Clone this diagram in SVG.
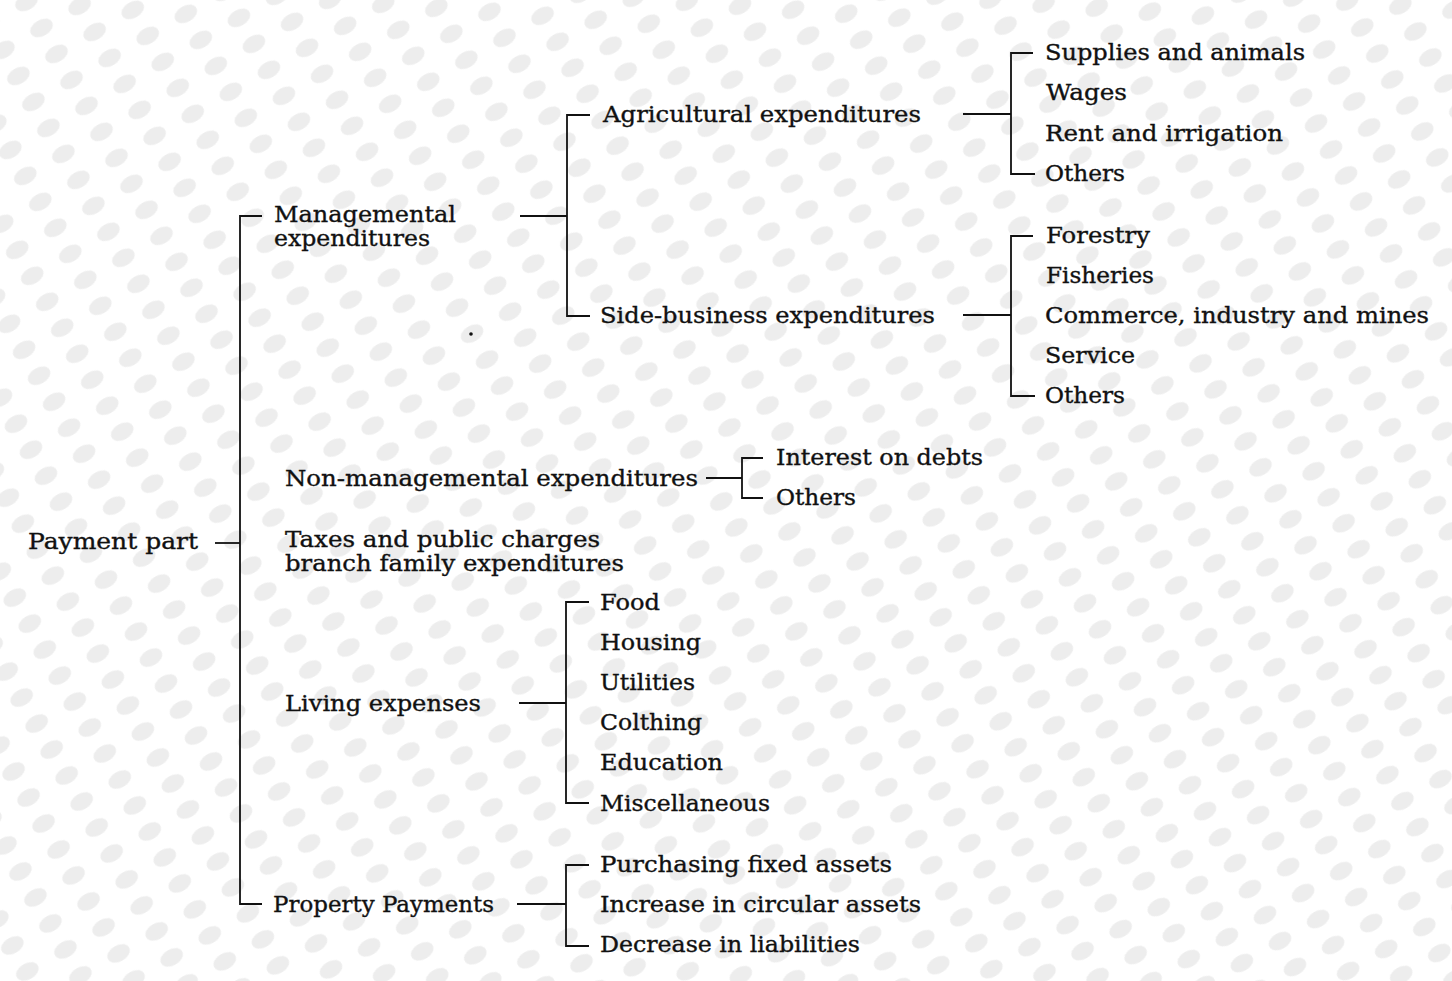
<svg xmlns="http://www.w3.org/2000/svg" width="1452" height="981" viewBox="0 0 1452 981">
<defs>
<pattern id="ht" width="44" height="30" patternUnits="userSpaceOnUse" patternTransform="rotate(-30)">
<rect width="44" height="30" fill="#ffffff"/>
<ellipse cx="22" cy="15" rx="12" ry="8" fill="#ededed"/>
</pattern>
<style>
text{font-family:"DejaVu Serif","Liberation Serif",serif;font-size:22px;fill:#111;stroke:#111;stroke-width:0.35}
.c line,.c polyline{stroke:#111;stroke-width:1.8;fill:none}
</style>
</defs>
<rect width="1452" height="981" fill="url(#ht)"/>
<g class="c" id="connectors">
<line x1="215" y1="543" x2="240" y2="543"/>
<polyline points="262,216 240,216 240,904 262,904"/>
<line x1="520" y1="216" x2="567" y2="216"/>
<polyline points="590,115 567,115 567,316 590,316"/>
<line x1="963" y1="114" x2="1011" y2="114"/>
<polyline points="1033,53 1011,53 1011,174 1035,174"/>
<line x1="963" y1="315" x2="1011" y2="315"/>
<polyline points="1033,236 1011,236 1011,396 1035,396"/>
<line x1="706" y1="478" x2="742" y2="478"/>
<polyline points="763,458 742,458 742,498 763,498"/>
<line x1="519" y1="703" x2="566" y2="703"/>
<polyline points="589,602 566,602 566,803 589,803"/>
<line x1="517" y1="904" x2="566" y2="904"/>
<polyline points="589,865 566,865 566,946 589,946"/>
</g>
<circle cx="471" cy="334" r="1.8" fill="#111"/>
<g id="payment"><text x="28" y="549" textLength="170" lengthAdjust="spacingAndGlyphs">Payment part</text></g>
<g id="managemental"><text x="274" y="222" textLength="182" lengthAdjust="spacingAndGlyphs">Managemental</text><text x="274" y="246" textLength="156" lengthAdjust="spacingAndGlyphs">expenditures</text></g>
<g id="agricultural"><text x="603" y="122" textLength="318" lengthAdjust="spacingAndGlyphs">Agricultural expenditures</text></g>
<g id="supplies"><text x="1045" y="60" textLength="260" lengthAdjust="spacingAndGlyphs">Supplies and animals</text></g>
<g id="wages"><text x="1046" y="100" textLength="81" lengthAdjust="spacingAndGlyphs">Wages</text></g>
<g id="rent"><text x="1045" y="141" textLength="238" lengthAdjust="spacingAndGlyphs">Rent and irrigation</text></g>
<g id="others1"><text x="1045" y="181" textLength="80" lengthAdjust="spacingAndGlyphs">Others</text></g>
<g id="side"><text x="600" y="323" textLength="335" lengthAdjust="spacingAndGlyphs">Side-business expenditures</text></g>
<g id="forestry"><text x="1046" y="243" textLength="104" lengthAdjust="spacingAndGlyphs">Forestry</text></g>
<g id="fisheries"><text x="1046" y="283" textLength="108" lengthAdjust="spacingAndGlyphs">Fisheries</text></g>
<g id="commerce"><text x="1045" y="323" textLength="384" lengthAdjust="spacingAndGlyphs">Commerce, industry and mines</text></g>
<g id="service"><text x="1045" y="363" textLength="90" lengthAdjust="spacingAndGlyphs">Service</text></g>
<g id="others2"><text x="1045" y="403" textLength="80" lengthAdjust="spacingAndGlyphs">Others</text></g>
<g id="nonmanagemental"><text x="285" y="486" textLength="413" lengthAdjust="spacingAndGlyphs">Non-managemental expenditures</text></g>
<g id="interest"><text x="776" y="465" textLength="207" lengthAdjust="spacingAndGlyphs">Interest on debts</text></g>
<g id="others3"><text x="776" y="505" textLength="80" lengthAdjust="spacingAndGlyphs">Others</text></g>
<g id="taxes"><text x="285" y="547" textLength="315" lengthAdjust="spacingAndGlyphs">Taxes and public charges</text><text x="285" y="571" textLength="339" lengthAdjust="spacingAndGlyphs">branch family expenditures</text></g>
<g id="living"><text x="285" y="711" textLength="196" lengthAdjust="spacingAndGlyphs">Living expenses</text></g>
<g id="food"><text x="600" y="610" textLength="60" lengthAdjust="spacingAndGlyphs">Food</text></g>
<g id="housing"><text x="600" y="650" textLength="101" lengthAdjust="spacingAndGlyphs">Housing</text></g>
<g id="utilities"><text x="600" y="690" textLength="95" lengthAdjust="spacingAndGlyphs">Utilities</text></g>
<g id="colthing"><text x="600" y="730" textLength="102" lengthAdjust="spacingAndGlyphs">Colthing</text></g>
<g id="education"><text x="600" y="770" textLength="123" lengthAdjust="spacingAndGlyphs">Education</text></g>
<g id="misc"><text x="600" y="811" textLength="170" lengthAdjust="spacingAndGlyphs">Miscellaneous</text></g>
<g id="property"><text x="273" y="912" textLength="221" lengthAdjust="spacingAndGlyphs">Property Payments</text></g>
<g id="purchasing"><text x="600" y="872" textLength="292" lengthAdjust="spacingAndGlyphs">Purchasing fixed assets</text></g>
<g id="increase"><text x="600" y="912" textLength="321" lengthAdjust="spacingAndGlyphs">Increase in circular assets</text></g>
<g id="decrease"><text x="600" y="952" textLength="260" lengthAdjust="spacingAndGlyphs">Decrease in liabilities</text></g>
</svg>
